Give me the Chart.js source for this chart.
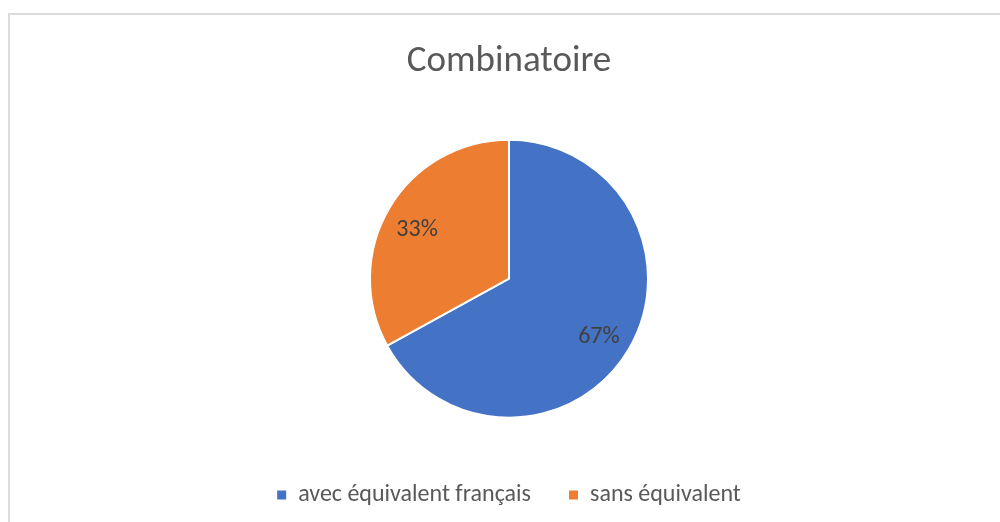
<!DOCTYPE html>
<html>
<head>
<meta charset="utf-8">
<script src="https://cdn.jsdelivr.net/npm/chart.js@4.4.1/dist/chart.umd.min.js"></script>
<style>
  html, body { margin: 0; padding: 0; background: #fff; overflow: hidden; }
  #card {
    position: absolute; left: 8px; top: 13px; width: 1002px; height: 520px;
    border: 2px solid #dcdcdc; box-sizing: border-box; background: #fff;
  }
  #wrap { position: absolute; left: 0; top: 0; width: 998px; height: 516px; }
</style>
</head>
<body>
<div id="card"><div id="wrap"><canvas id="pieChart"></canvas></div></div>
<script>
const title = 'Combinatoire';
const categories = ['avec équivalent français', 'sans équivalent'];
const values = [67, 33];
const colors = ['#4472C4', '#ED7D31'];
const FONT = "Calibri, Carlito, Lato, 'Open Sans', sans-serif";

// étiquettes de pourcentage à l'intérieur des parts
const sliceLabels = {
    id: 'sliceLabels',
    afterDatasetsDraw(chart) {
        const ctx = chart.ctx;
        const meta = chart.getDatasetMeta(0);
        const total = values.reduce((a, b) => a + b, 0);
        ctx.save();
        ctx.font = '24px ' + FONT;
        ctx.fillStyle = '#404040';
        ctx.textAlign = 'center';
        ctx.textBaseline = 'middle';
        meta.data.forEach((arc, i) => {
            const p = arc.getProps(['x', 'y', 'startAngle', 'endAngle', 'outerRadius'], true);
            const mid = (p.startAngle + p.endAngle) / 2;
            const r = p.outerRadius * 0.76;
            const pct = Math.round(values[i] / total * 100) + '%';
            ctx.fillText(pct, p.x + Math.cos(mid) * r - 1, p.y + Math.sin(mid) * r + 5);
        });
        ctx.restore();
    }
};

new Chart(document.getElementById('pieChart'), {
    type: 'pie',
    data: {
        labels: categories,
        datasets: [{
            data: values,
            backgroundColor: colors,
            borderColor: '#ffffff',
            borderWidth: 2,
            radius: 139,
        }],
    },
    options: {
        responsive: true,
        maintainAspectRatio: false,
        animation: false,
        layout: { padding: { top: 0, bottom: 14 } },
        plugins: {
            title: {
                display: true,
                text: title,
                color: '#595959',
                font: { family: FONT, size: 37, weight: 'normal' },
                padding: { top: 25, bottom: 28 },
            },
            legend: {
                position: 'bottom',
                labels: {
                    color: '#595959',
                    font: { family: FONT, size: 24 },
                    boxWidth: 9,
                    boxHeight: 9,
                    padding: 38,
                    generateLabels(chart) {
                        return categories.map((c, i) => ({
                            text: c,
                            fillStyle: colors[i],
                            strokeStyle: colors[i],
                            lineWidth: 0,
                            fontColor: '#595959',
                            index: i,
                        }));
                    },
                },
            },
            tooltip: { enabled: false },
        },
    },
    plugins: [sliceLabels],
});
</script>
</body>
</html>
